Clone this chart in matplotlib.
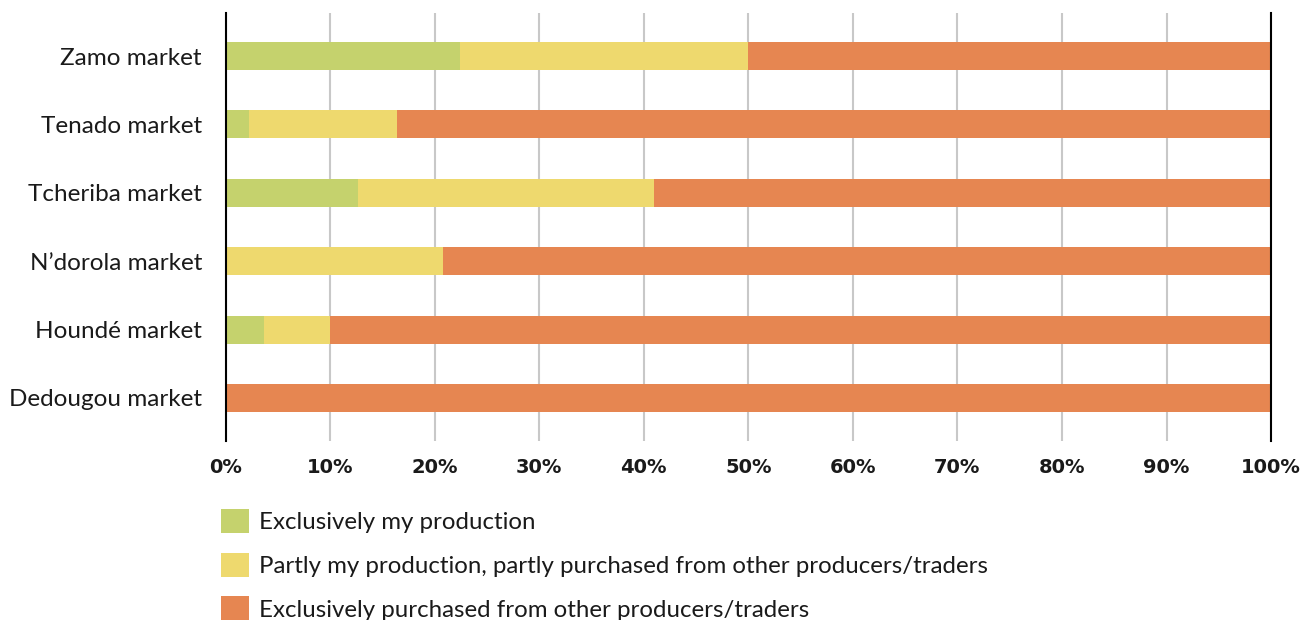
"""Stacked horizontal bar chart: origin of products sold, by market."""

import matplotlib.pyplot as plt
from matplotlib.patches import Patch
from matplotlib.ticker import FuncFormatter, MultipleLocator

MARKETS = [
    "Zamo market",
    "Tenado market",
    "Tcheriba market",
    "N\u2019dorola market",
    "Houndé market",
    "Dedougou market",
]

# shares in percent, one entry per market
OWN_ONLY = [22.4, 2.2, 12.7, 0.0, 3.7, 0.0]
MIXED = [27.6, 14.2, 28.3, 20.8, 6.3, 0.0]
PURCHASED_ONLY = [50.0, 83.6, 59.0, 79.2, 90.0, 100.0]

SERIES_LABELS = [
    "Exclusively my production",
    "Partly my production, partly purchased from other producers/traders",
    "Exclusively purchased from other producers/traders",
]
COLORS = ["#c5d26d", "#eed96e", "#e68651"]

TEXT_COLOR = "#1a1a1a"


def main() -> None:
    fig = plt.figure(figsize=(13.15, 6.2), dpi=100)
    ax = fig.add_axes([0.1715, 0.2887, 0.7951, 0.6903])

    y = list(range(len(MARKETS)))
    left = [0.0] * len(MARKETS)
    for values, color in zip([OWN_ONLY, MIXED, PURCHASED_ONLY], COLORS):
        ax.barh(y, values, left=left, height=0.41, color=color, zorder=2)
        left = [a + b for a, b in zip(left, values)]

    ax.set_xlim(0, 100)
    ax.set_ylim(len(MARKETS) - 0.37, -0.63)
    ax.set_yticks(y)
    ax.set_yticklabels(MARKETS, fontsize=17.5, color=TEXT_COLOR, family="Lato")

    ax.xaxis.set_major_locator(MultipleLocator(10))
    ax.xaxis.set_major_formatter(FuncFormatter(lambda v, _: f"{v:.0f}%"))
    for label in ax.get_xticklabels():
        label.set_fontsize(14)
        label.set_fontweight("bold")
        label.set_family("DejaVu Sans")
        label.set_color(TEXT_COLOR)

    ax.tick_params(axis="both", length=0)
    ax.tick_params(axis="x", pad=12)
    ax.tick_params(axis="y", pad=17)

    ax.grid(axis="x", color="#c8c8c8", linewidth=1.5, zorder=0)
    for side in ("top", "bottom"):
        ax.spines[side].set_visible(False)
    ax.spines["left"].set_color("black")
    ax.spines["left"].set_linewidth(1.5)
    ax.spines["right"].set_color("black")
    ax.spines["right"].set_linewidth(1.5)
    ax.spines["right"].set_zorder(3)

    handles = [Patch(facecolor=c, edgecolor="none") for c in COLORS]
    fig.legend(
        handles,
        SERIES_LABELS,
        loc="upper left",
        bbox_to_anchor=(221 / 1315, 1 - 509 / 620),
        frameon=False,
        prop={"family": "Lato", "size": 17.3},
        handlelength=1.17,
        handleheight=1.17,
        handletextpad=0.42,
        labelspacing=0.81,
        borderaxespad=0,
        borderpad=0,
        labelcolor=TEXT_COLOR,
    )

    fig.savefig("out.png", dpi=100)
    plt.close(fig)


if __name__ == "__main__":
    main()
